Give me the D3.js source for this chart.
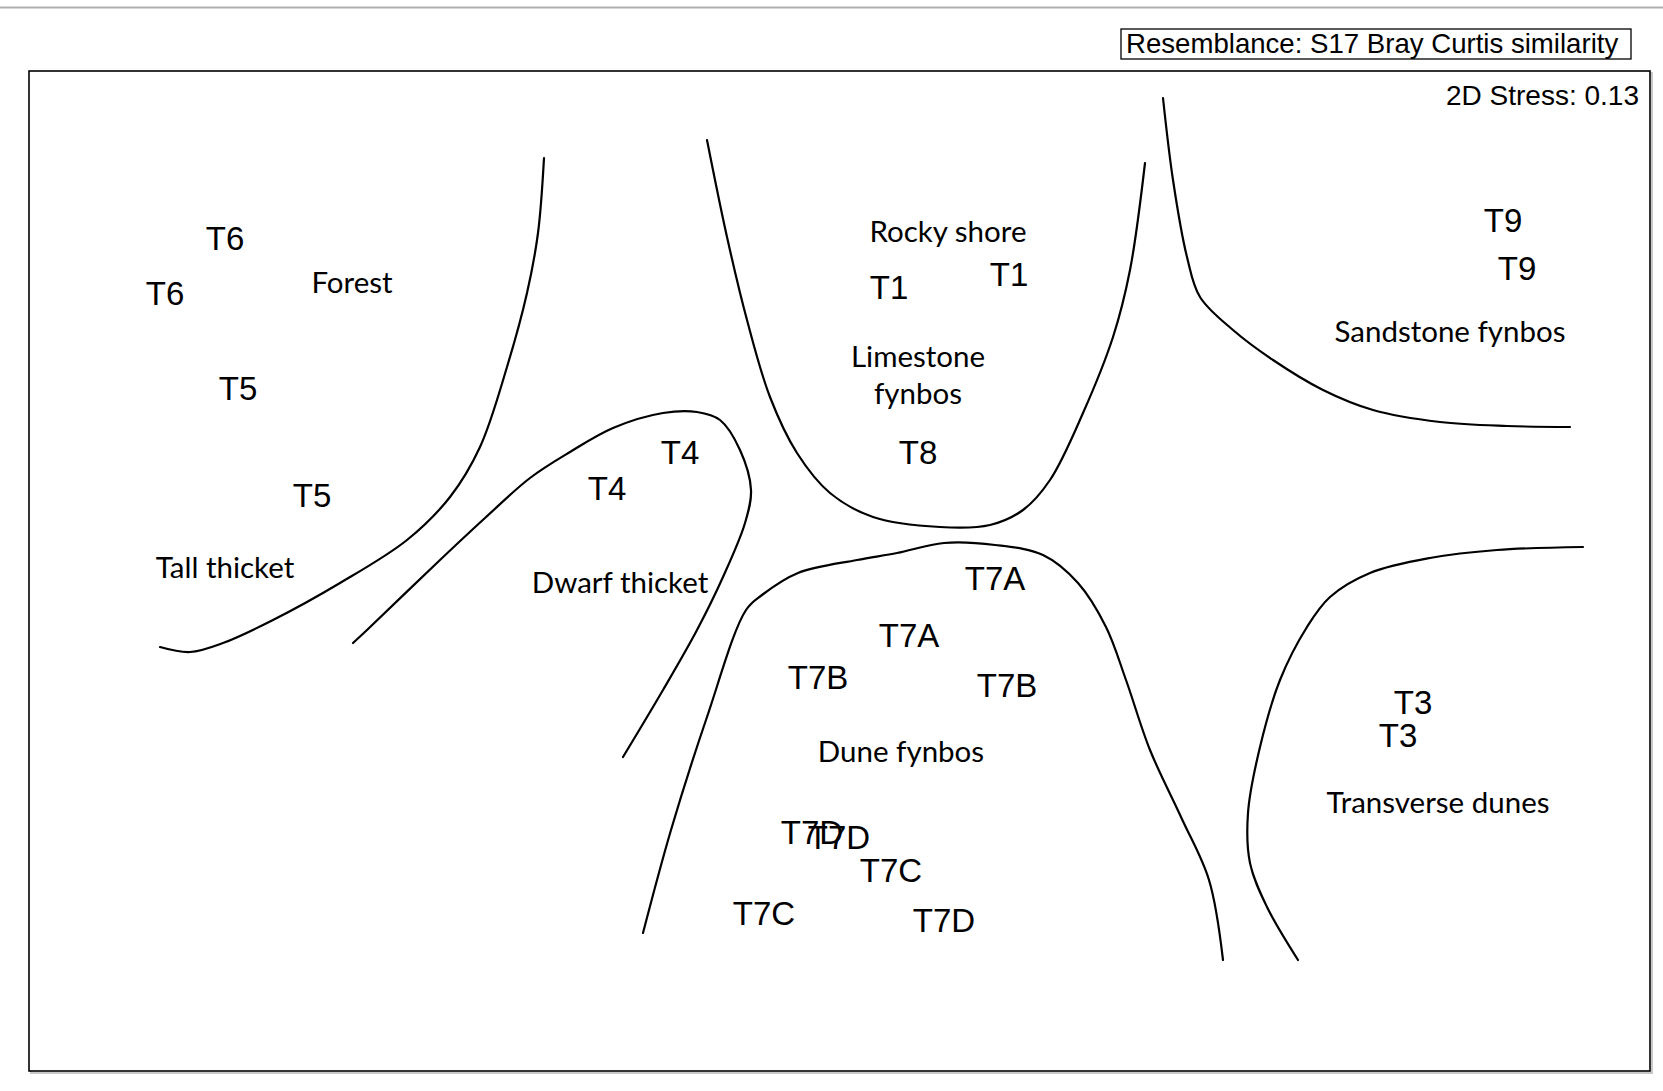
<!DOCTYPE html>
<html>
<head>
<meta charset="utf-8">
<script src="https://cdn.jsdelivr.net/npm/d3@7"></script>
<style>
  body { margin: 0; background: #fff; }
  svg { display: block; }
</style>
</head>
<body>
<div id="chart"></div>
<script>

var sites = ["T6", "T6", "T5", "T5", "T4", "T4", "T1", "T1", "T8", "T9", "T9",
             "T7A", "T7A", "T7B", "T7B", "T7D", "T7D", "T7D", "T7C", "T7C", "T3", "T3"];
var siteX = [225, 165, 238, 312, 680, 607, 889, 1009, 918, 1503, 1517,
             995, 909, 818, 1007, 812, 839, 944, 891, 764, 1413, 1398];
var siteY = [238, 293, 388, 495, 452, 488, 287, 274, 452, 220, 268,
             578, 635, 677, 685, 832, 837, 920, 870, 913, 702, 735];

// habitat group labels
var groups = [["Forest"], ["Tall thicket"], ["Dwarf thicket"], ["Rocky shore"], ["Limestone", "fynbos"],
              ["Sandstone fynbos"], ["Dune fynbos"], ["Transverse dunes"]];
var groupX = [352, 225, 620, 948, 918, 1450, 901, 1438];
var groupY = [283, 568, 583, 232, 357, 332, 752, 803];

// hand drawn group boundaries
var tallThicket = [[544, 158], [538, 233], [527, 293], [507, 367], [480, 447], [450, 497],
                   [407, 540], [340, 583], [273, 620], [223, 643], [190, 652], [160, 647]];
var dwarfThicket = [[353, 643], [367, 630], [440, 560], [485, 518], [530, 478], [570, 452],
                    [613, 428], [663, 413], [697, 412], [720, 420], [740, 450], [751, 490],
                    [745, 523], [723, 577], [697, 630], [663, 690], [623, 757]];
var limestone = [[707, 140], [727, 237], [747, 320], [770, 397], [797, 453], [830, 493],
                 [873, 517], [940, 527], [990, 525], [1023, 510], [1050, 480], [1083, 413],
                 [1113, 337], [1130, 270], [1145, 163]];
var sandstone = [[1163, 98], [1173, 180], [1187, 257], [1200, 297], [1233, 330], [1273, 360],
                 [1323, 390], [1373, 410], [1440, 422], [1507, 426], [1570, 427]];
var duneFynbos = [[643, 933], [671, 830], [707, 717], [746, 610], [762, 595], [798, 573],
                  [857, 560], [897, 553], [944, 543], [995, 545], [1043, 555], [1078, 583],
                  [1106, 627], [1126, 680], [1150, 750], [1181, 817], [1209, 880], [1223, 960]];
var transverse = [[1583, 547], [1497, 550], [1430, 558], [1370, 573], [1330, 597], [1307, 627],
                  [1280, 680], [1260, 747], [1248, 813], [1250, 863], [1267, 907], [1298, 960]];
var boundaries = [tallThicket, dwarfThicket, limestone, sandstone, duneFynbos, transverse];

var stressText = "2D Stress: 0.13";
var resemblanceText = "Resemblance: S17 Bray Curtis similarity";

var W = 1663, H = 1091;
var frame = {left: 29, top: 71, right: 1650, bottom: 1071};

var svg = d3.select("#chart").append("svg")
    .attr("width", W)
    .attr("height", H);

// scales: digitized units -> page
var x = d3.scaleLinear().domain([frame.left, frame.right]).range([frame.left, frame.right]);
var y = d3.scaleLinear().domain([frame.top, frame.bottom]).range([frame.top, frame.bottom]);

// thin grey rule across the top
svg.append("line")
    .attr("x1", 0).attr("x2", W)
    .attr("y1", 7.5).attr("y2", 7.5)
    .attr("stroke", "#b0b0b0")
    .attr("stroke-width", 2);

// plot frame with a little shadow
svg.append("rect")
    .attr("x", frame.left + 2).attr("y", frame.top + 2)
    .attr("width", frame.right - frame.left).attr("height", frame.bottom - frame.top)
    .attr("fill", "none").attr("stroke", "#c8c8c8").attr("stroke-width", 2);
svg.append("rect")
    .attr("x", frame.left).attr("y", frame.top)
    .attr("width", frame.right - frame.left).attr("height", frame.bottom - frame.top)
    .attr("fill", "#fff").attr("stroke", "#000").attr("stroke-width", 1.6);

// resemblance box
svg.append("rect")
    .attr("x", 1121).attr("y", 29)
    .attr("width", 510).attr("height", 30)
    .attr("fill", "#fff").attr("stroke", "#000").attr("stroke-width", 1.3);
svg.append("text")
    .attr("x", 1126).attr("y", 53)
    .attr("font-family", "Liberation Sans, Arial, sans-serif")
    .attr("font-size", 27.6)
    .text(resemblanceText);

svg.append("text")
    .attr("x", 1639).attr("y", 105)
    .attr("text-anchor", "end")
    .attr("font-family", "Liberation Sans, Arial, sans-serif")
    .attr("font-size", 28)
    .text(stressText);

// boundaries
var line = d3.line()
    .x(function(d) { return x(d[0]); })
    .y(function(d) { return y(d[1]); })
    .curve(d3.curveCatmullRom.alpha(0.5));

svg.selectAll("path.boundary")
    .data(boundaries)
  .enter().append("path")
    .attr("class", "boundary")
    .attr("d", line)
    .attr("fill", "none")
    .attr("stroke", "#000")
    .attr("stroke-width", 2.2)
    .attr("stroke-linecap", "round");

// sample labels
svg.selectAll("text.site")
    .data(sites)
  .enter().append("text")
    .attr("class", "site")
    .attr("x", function(d, i) { return x(siteX[i]); })
    .attr("y", function(d, i) { return y(siteY[i]); })
    .attr("dy", "0.36em")
    .attr("text-anchor", "middle")
    .attr("font-family", "Liberation Sans, Arial, sans-serif")
    .attr("font-size", 33)
    .text(function(d) { return d; });

// group labels (multi-line ones start at their anchor and run downwards)
var g = svg.selectAll("text.group")
    .data(groups)
  .enter().append("text")
    .attr("class", "group")
    .attr("x", function(d, i) { return x(groupX[i]); })
    .attr("y", function(d, i) { return y(groupY[i]); })
    .attr("text-anchor", "middle")
    .attr("font-family", "Lato, 'Open Sans', sans-serif")
    .attr("font-size", 29.5);

g.selectAll("tspan")
    .data(function(d, i) { return d.map(function(t, k) { return {t: t, k: k, i: i}; }); })
  .enter().append("tspan")
    .attr("x", function(d) { return x(groupX[d.i]); })
    .attr("dy", function(d) { return d.k === 0 ? "0.35em" : "1.25em"; })
    .text(function(d) { return d.t; });

</script>
</body>
</html>
